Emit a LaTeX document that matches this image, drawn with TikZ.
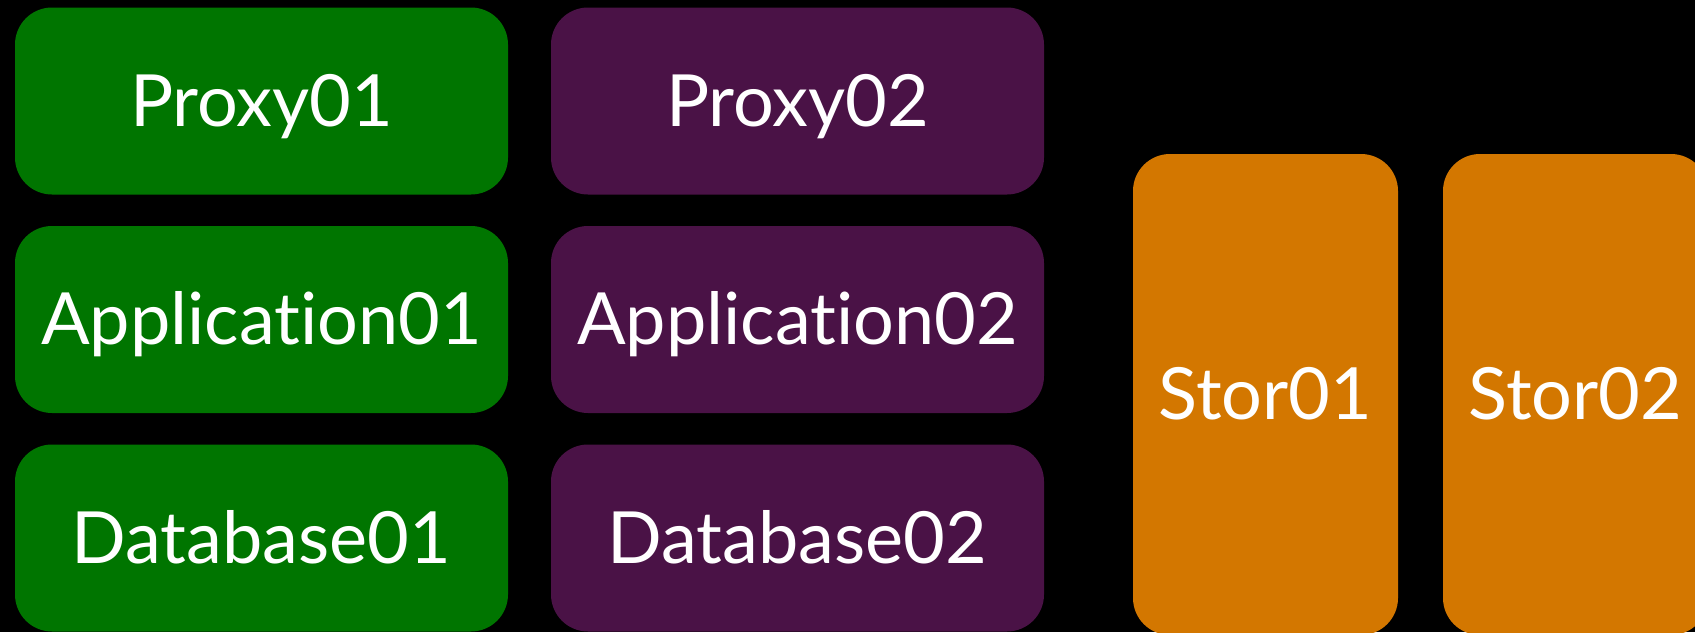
\documentclass[tikz,border=0pt]{standalone}
\usepackage{fontspec}
\setmainfont{Lato}[Ligatures={NoCommon}]
\definecolor{hostgreen}{RGB}{0,117,0}
\definecolor{hostpurple}{RGB}{74,18,70}
\definecolor{storeorange}{RGB}{211,119,0}

\begin{document}
\begin{tikzpicture}[x=1pt, y=-1pt,
    tier/.style={rectangle, rounded corners=37pt, inner sep=0pt,
        minimum width=493pt, minimum height=187pt, text=white,
        font=\fontsize{72}{78}\selectfont, text height=50pt, text depth=0pt},
    site1/.style={tier, fill=hostgreen},
    site2/.style={tier, fill=hostpurple},
    storbox/.style={tier, fill=storeorange, minimum width=265pt, minimum height=481pt}]
    \fill[black] (0,0) rectangle (1695,632);
    \clip (0,0) rectangle (1695,632);
    % first site
    \node[site1] (proxy1) at (261.5,101) {Proxy01};
    \node[site1] (app1) at (261.5,319.5) {Application01};
    \node[site1] (db1) at (261.5,538) {Database01};
    % second site
    \node[site2] (proxy2) at (797.5,101) {Proxy02};
    \node[site2] (app2) at (797.5,319.5) {Application02};
    \node[site2] (db2) at (797.5,538) {Database02};
    % storage
    \node[storbox] (stor1) at (1265.5,394.5) {Stor01};
    \node[storbox] (stor2) at (1575.5,394.5) {Stor02};
\end{tikzpicture}
\end{document}
